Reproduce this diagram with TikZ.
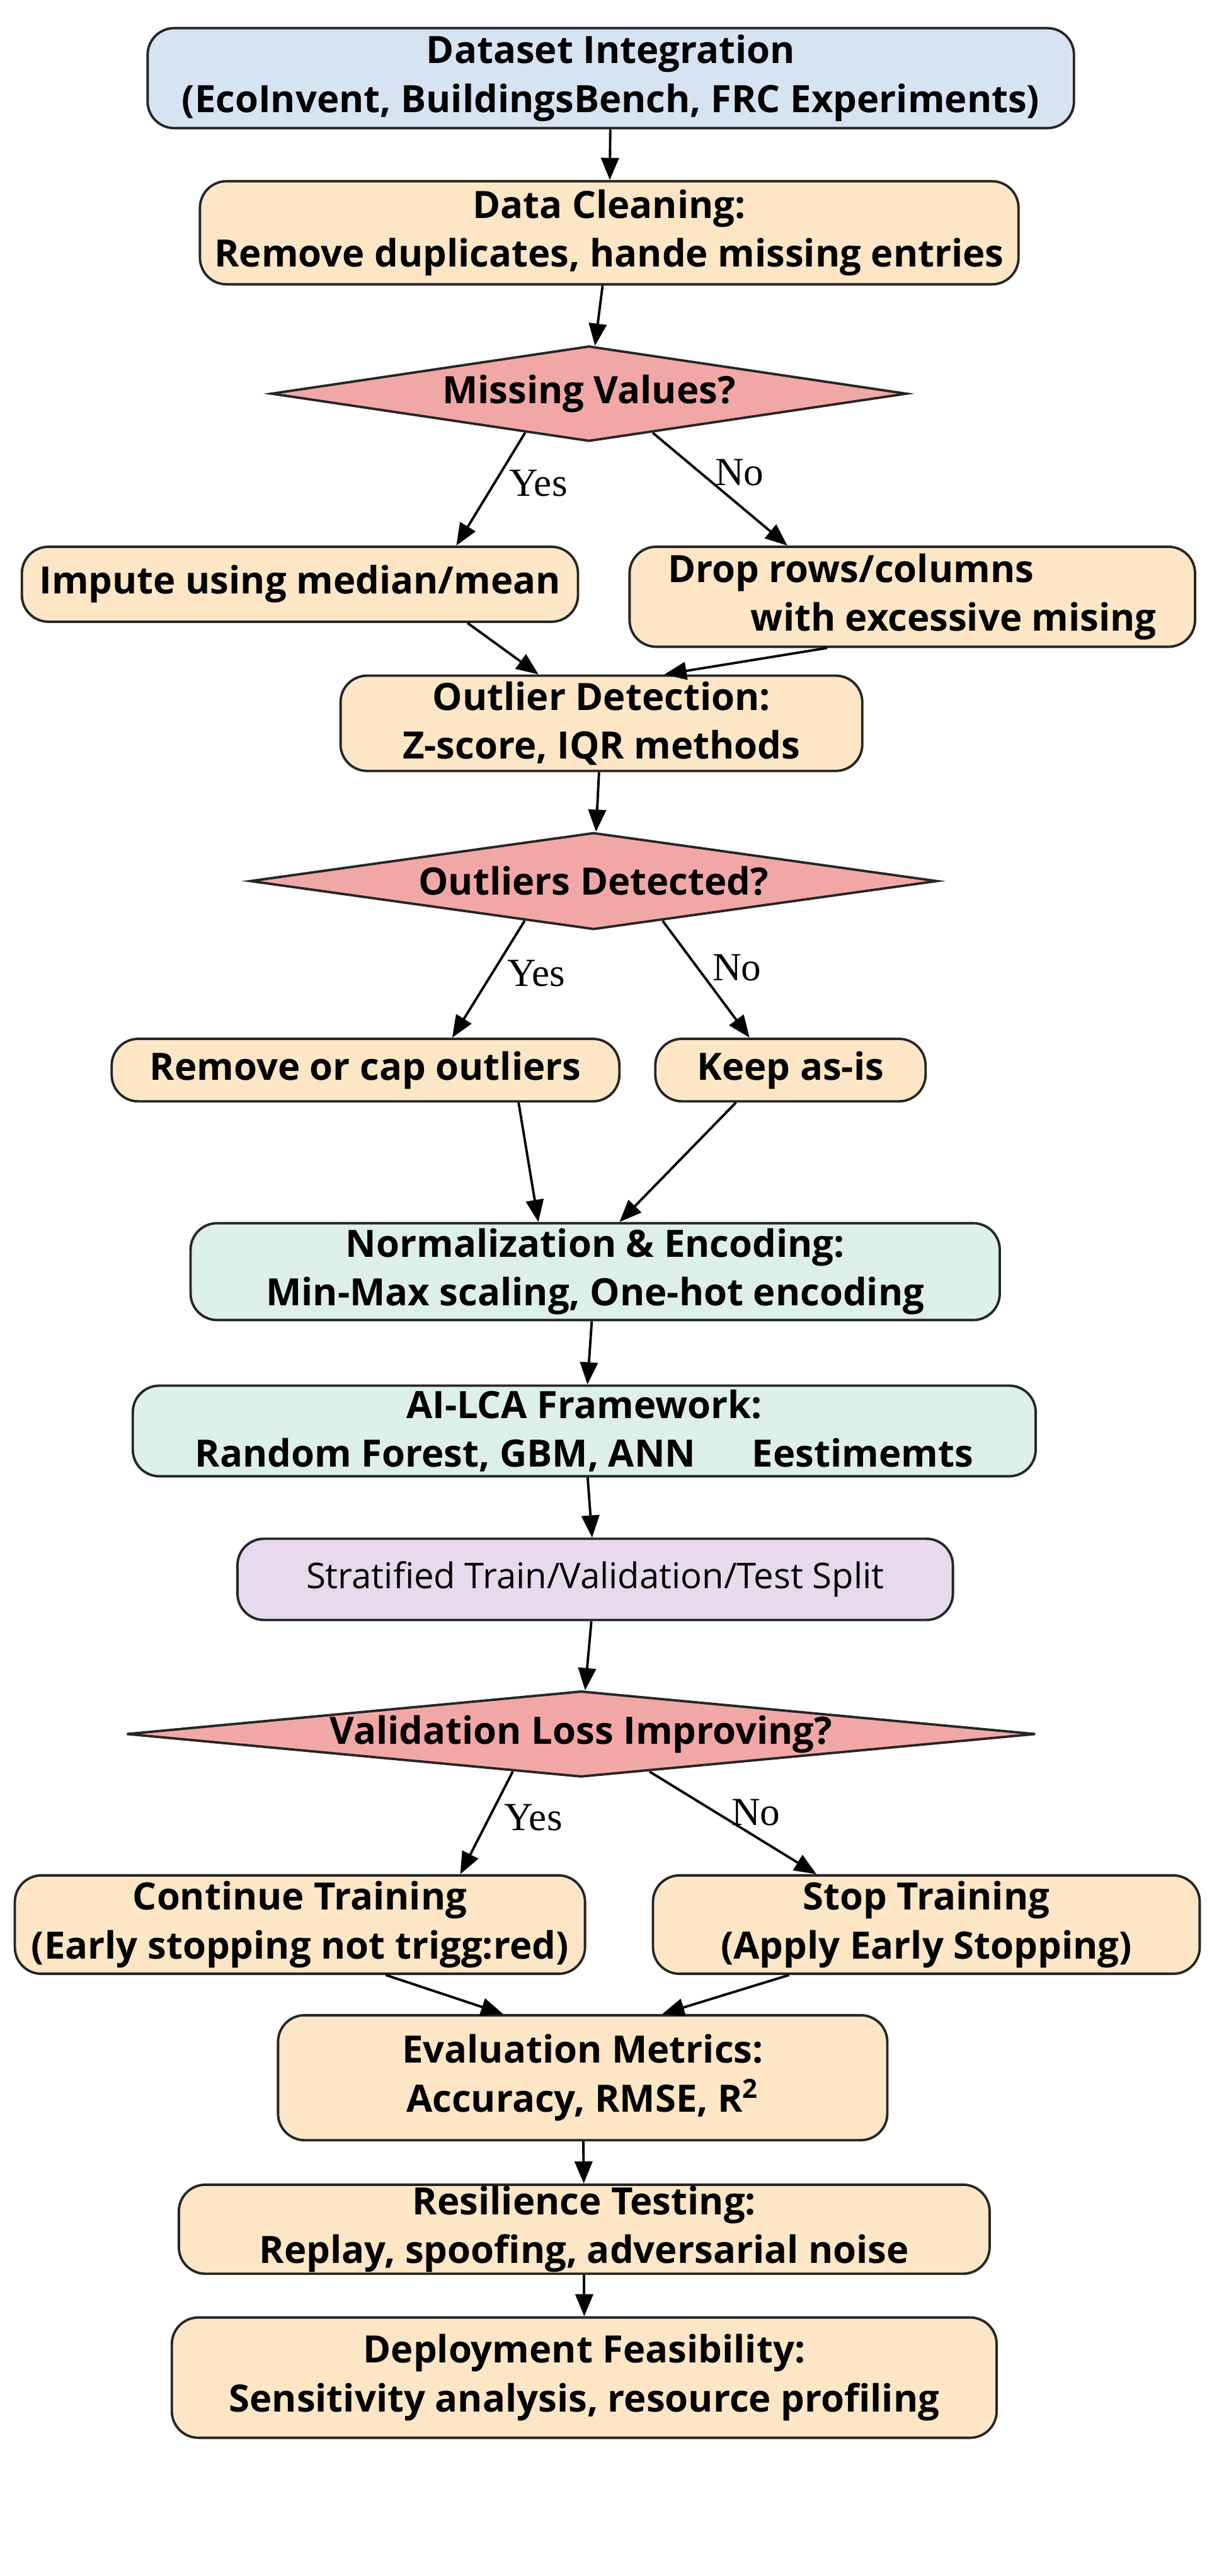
\documentclass[tikz,border=0pt]{standalone}
\usepackage{fontspec}
\setmainfont{Open Sans}
\newfontfamily\lab{Liberation Serif}
\usetikzlibrary{shapes.geometric,calc,arrows.meta}
\definecolor{cblue}{HTML}{D6E4F2}
\definecolor{corange}{HTML}{FDE6C6}
\definecolor{cred}{HTML}{F2A7A7}
\definecolor{cgreen}{HTML}{DCF0E7}
\definecolor{cpurple}{HTML}{E7DAEC}
\def\U{0.0248cm}
\begin{document}
\begin{tikzpicture}[x=0.0248cm,y=-0.0248cm,
  box/.style={draw=black!85,line width=1.1pt,rounded corners=12pt,align=center,font=\bfseries\fontsize{17}{22}\selectfont,inner sep=0pt},
  dia/.style={draw=black!85,line width=1.1pt,diamond,fill=cred,inner sep=0pt,font=\bfseries\fontsize{17}{22}\selectfont},
  sz/.style 2 args={minimum width=#1*\U,minimum height=#2*\U},
  arr/.style={line width=1.1pt,-{Triangle[length=10pt,width=8pt]}},
  lb/.style={font=\lab\fontsize{18}{22}\selectfont}]
\useasboundingbox (0,0) rectangle (780,1649);
\node[box,fill=cblue,sz={593}{64}] (ds) at (391,50) {Dataset Integration\\(EcoInvent, BuildingsBench, FRC Experiments)};
\node[box,fill=corange,sz={524}{66}] (dc) at (390,149) {Data Cleaning:\\Remove duplicates, hande missing entries};
\node[dia,aspect=6.67,sz={407}{61}] (mv) at (377,252) {Missing Values?};
\node[box,fill=corange,sz={356}{48}] (imp) at (192,374) {Impute using median/mean};
\node[box,fill=corange,sz={362}{64},align=left] (drop) at (584,382) {Drop rows/columns\\\hspace{2.2em}with excessive mising};
\node[box,fill=corange,sz={334}{61}] (od) at (385,463) {Outlier Detection:\\Z-score, IQR methods};
\node[dia,aspect=7.1,sz={440}{62}] (oq) at (380,564) {Outliers Detected?};
\node[box,fill=corange,sz={325}{40}] (rc) at (234,685) {Remove or cap outliers};
\node[box,fill=corange,sz={173}{40}] (kp) at (506,685) {Keep as-is};
\node[box,fill=cgreen,sz={518}{62}] (nm) at (381,814) {Normalization \& Encoding:\\Min-Max scaling, One-hot encoding};
\node[box,fill=cgreen,sz={578}{58}] (ai) at (374,916) {AI-LCA Framework:\\Random Forest, GBM, ANN\hspace{1.5em}Eestimemts};
\node[box,fill=cpurple,sz={458}{52},font=\fontsize{16}{20}\selectfont] (st) at (381,1011) {Stratified Train/Validation/Test Split};
\node[dia,aspect=10.6,sz={582}{55}] (vl) at (372,1110) {Validation Loss Improving?};
\node[box,fill=corange,sz={365}{63}] (ct) at (192,1232) {Continue Training\\(Early stopping not trigg:red)};
\node[box,fill=corange,sz={350}{63}] (sp) at (593,1232) {Stop Training\\(Apply Early Stopping)};
\node[box,fill=corange,sz={390}{80}] (ev) at (373,1330) {Evaluation Metrics:\\Accuracy, RMSE, R$^{\mathbf 2}$};
\node[box,fill=corange,sz={519}{57}] (rs) at (374,1427) {Resilience Testing:\\Replay, spoofing, adversarial noise};
\node[box,fill=corange,sz={528}{77}] (dp) at (374,1522) {Deployment Feasibility:\\Sensitivity analysis, resource profiling};
% straight arrows
\draw[arr] (ds) -- (dc);
\draw[arr] (dc) -- (mv);
\draw[arr] (od) -- (oq);
\draw[arr] (nm) -- (ai);
\draw[arr] (ai) -- (st);
\draw[arr] (st) -- (vl);
\draw[arr] (ev) -- (rs);
\draw[arr] (rs) -- (dp);
% branches
\draw[arr] ($(mv.south)!0.2!(mv.west)$) -- ($(imp.north west)!0.78!(imp.north east)$) node[lb,pos=0.45,right=3pt] {Yes};
\draw[arr] ($(mv.south)!0.2!(mv.east)$) -- ($(drop.north west)!0.28!(drop.north east)$) node[lb,pos=0.35,right=3pt] {No};
\draw[arr] ($(imp.south west)!0.8!(imp.south east)$) -- ($(od.north west)!0.38!(od.north east)$);
\draw[arr] ($(drop.south west)!0.35!(drop.south east)$) -- ($(od.north west)!0.62!(od.north east)$);
\draw[arr] ($(oq.south)!0.2!(oq.west)$) -- ($(rc.north west)!0.67!(rc.north east)$) node[lb,pos=0.45,right=3pt] {Yes};
\draw[arr] ($(oq.south)!0.2!(oq.east)$) -- ($(kp.north west)!0.35!(kp.north east)$) node[lb,pos=0.4,right=3pt] {No};
\draw[arr] ($(rc.south west)!0.8!(rc.south east)$) -- ($(nm.north west)!0.43!(nm.north east)$);
\draw[arr] ($(kp.south west)!0.3!(kp.south east)$) -- ($(nm.north west)!0.53!(nm.north east)$);
\draw[arr] ($(vl.south)!0.15!(vl.west)$) -- ($(ct.north west)!0.78!(ct.north east)$) node[lb,pos=0.45,right=3pt] {Yes};
\draw[arr] ($(vl.south)!0.15!(vl.east)$) -- ($(sp.north west)!0.3!(sp.north east)$) node[lb,pos=0.4,right=3pt] {No};
\draw[arr] ($(ct.south west)!0.65!(ct.south east)$) -- ($(ev.north west)!0.37!(ev.north east)$);
\draw[arr] ($(sp.south west)!0.25!(sp.south east)$) -- ($(ev.north west)!0.63!(ev.north east)$);
\end{tikzpicture}
\end{document}
